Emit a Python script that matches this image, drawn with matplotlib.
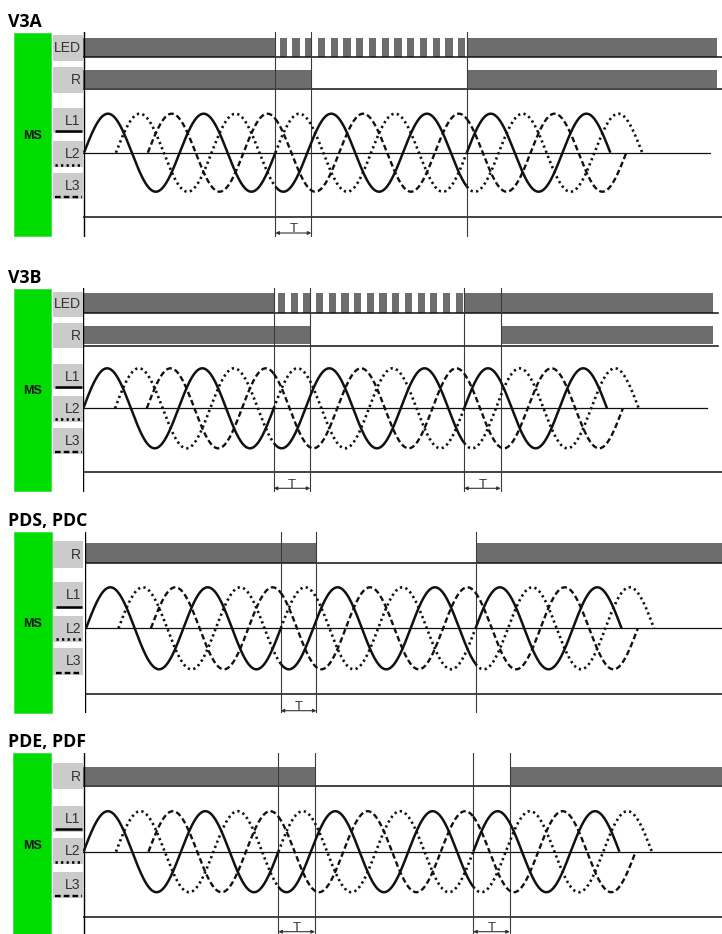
import numpy as np
import matplotlib
matplotlib.use('Agg')
import matplotlib.pyplot as plt
from matplotlib.patches import Rectangle

# ---------------- data (time in units of 1/6 of a mains period) ----------------
panel_titles = ['V3A', 'V3B', 'PDS, PDC', 'PDE, PDF']
row_labels = [['LED', 'R'], ['LED', 'R'], ['R'], ['R']]
phase_names = ['L1', 'L2', 'L3']
phase_lag = [0, 2, 4]          # L1, L2, L3 phase lag
wave_start = [0, 2, 4]
wave_end = [33, 35, 34]
fault_start = 12.0             # L1 and L2 swapped between these times
fault_end = 24.0
swap_pair = (0, 1)
relay_off_start = [14.25, 14.3, 14.2, 14.25]
relay_off_end = [24.0, 26.3, 24.0, 26.25]
led_blink = [(12.0, 24.0), (12.0, 24.0), None, None]
marker_times = [[12.0, 14.25, 24.0], [12.0, 14.3, 24.0, 26.3],
                [12.0, 14.2, 24.0], [12.0, 14.25, 24.0, 26.25]]
t_brackets = [[(12.0, 14.25)], [(12.0, 14.3), (24.0, 26.3)],
              [(12.0, 14.2)], [(12.0, 14.25), (24.0, 26.25)]]
blink_period = 0.8
blink_on = 0.45

# ---------------- layout (pixels) ----------------
W, H = 722, 934
layouts = [
    dict(x0=84.0, u=15.95, axis_x=83.3, top=31.7, bottom=237.0, title_y=27.0,
         green=(14, 33, 51, 236), box_x=(52.7, 82.7),
         rows=[(35, 61, 37.7, 56.7, 57.3), (67, 93, 70, 88.3, 89.3)],
         lboxes=[(108, 133), (141, 167), (173, 199)],
         zero=152.7, amp=39.0, bline=217.0, arrow_y=233.0,
         bar_end=717, base_end=722, zero_end=710, ms_y=136),
    dict(x0=83.3, u=15.87, axis_x=82.7, top=288.0, bottom=492.0, title_y=283.0,
         green=(14, 289.3, 51, 490.7), box_x=(52.7, 82.7),
         rows=[(291.7, 316.7, 293.3, 312.7, 313.3), (323, 348, 326, 344.3, 345.7)],
         lboxes=[(364, 389), (396, 421.7), (428, 454)],
         zero=408.3, amp=40.0, bline=472.3, arrow_y=488.3,
         bar_end=713, base_end=718, zero_end=707, ms_y=390.5),
    dict(x0=86.0, u=16.23, axis_x=85.0, top=531.7, bottom=713.0, title_y=526.0,
         green=(14, 531.7, 51.7, 713.3), box_x=(53.3, 83.3),
         rows=[(541, 567.7, 543.3, 562.7, 563.3)],
         lboxes=[(581.7, 609.3), (616, 641.7), (648.3, 675)],
         zero=628.3, amp=41.0, bline=694.3, arrow_y=710.7,
         bar_end=722, base_end=722, zero_end=722, ms_y=624),
    dict(x0=83.5, u=16.24, axis_x=83.3, top=753.0, bottom=934.0, title_y=747.3,
         green=(13.3, 753.3, 51, 934), box_x=(52.7, 82.7),
         rows=[(763.3, 789.3, 766.7, 785, 786)],
         lboxes=[(806, 831.7), (838.3, 864), (871.7, 898.3)],
         zero=851.7, amp=40.5, bline=916.7, arrow_y=931.7,
         bar_end=722, base_end=722, zero_end=722, ms_y=846),
]

BAR = '#6d6d6d'
BOX = '#cbcbcb'
GREEN = '#00dd00'
TXT = '#333333'
styles = ['-', (0, (0.85, 1.25)), (0, (2.4, 1.3))]
wave_lw = [1.8, 1.9, 1.7]

fig = plt.figure(figsize=(W / 100, H / 100), dpi=100)
bg = fig.add_axes([0, 0, 1, 1])
bg.set_xlim(0, W)
bg.set_ylim(H, 0)
bg.axis('off')


def tx(L, px):
    return (px - L['x0']) / L['u']


for i, L in enumerate(layouts):
    # ---- decorations in pixel space ----
    bg.text(8.5, L['title_y'], panel_titles[i], fontsize=12.8, fontweight='bold',
            family='Open Sans', va='baseline', ha='left', color='black')
    gx0, gy0, gx1, gy1 = L['green']
    bg.add_patch(Rectangle((gx0, gy0), gx1 - gx0, gy1 - gy0, facecolor=GREEN,
                           edgecolor='#40e040', lw=0.6))
    bg.text((gx0 + gx1) / 2, L['ms_y'], 'MS', fontsize=9, fontweight='bold',
            family='Liberation Sans', ha='center', va='center', color='#111111')
    bx0, bx1 = L['box_x']
    for lab, (r0, r1, *_rest) in zip(row_labels[i], L['rows']):
        bg.add_patch(Rectangle((bx0, r0), bx1 - bx0, r1 - r0, facecolor=BOX, lw=0))
        bg.text(bx1 - 2, (r0 + r1) / 2 + 0.3, lab, fontsize=10, family='Liberation Sans',
                ha='right', va='center', color=TXT)
    for k, (r0, r1) in enumerate(L['lboxes']):
        bg.add_patch(Rectangle((bx0, r0), bx1 - bx0, r1 - r0, facecolor=BOX, lw=0))
        bg.text(bx1 - 2, r0 + 17, phase_names[k], fontsize=10, family='Liberation Sans',
                ha='right', va='baseline', color=TXT)
        bg.plot([bx0 + 2.5, bx1 - 1], [r1 - 2.5, r1 - 2.5], color='black', lw=wave_lw[k],
                linestyle=styles[k], solid_capstyle='butt', dash_capstyle='butt')

    # ---- panel axes with time on x ----
    left = L['axis_x']
    ax = fig.add_axes([left / W, 1 - L['bottom'] / H, (W - left) / W,
                       (L['bottom'] - L['top']) / H])
    ax.set_xlim(tx(L, left), tx(L, W))
    ax.set_ylim(L['bottom'], L['top'])
    ax.axis('off')
    t_left = tx(L, left)

    # left axis line
    ax.plot([t_left + 0.02, t_left + 0.02], [L['top'], L['bottom']], color='black', lw=1.0)

    # rows (LED / R)
    for lab, (r0, r1, b0, b1, base) in zip(row_labels[i], L['rows']):
        t_end = tx(L, L['bar_end'])
        if lab == 'R':
            on = [(t_left, relay_off_start[i]), (relay_off_end[i], t_end)]
        else:
            bs, be = led_blink[i]
            on = [(t_left, bs), (be, t_end)]
            n = int(round((be - bs) / blink_period))
            for k in range(n):
                s = bs + k * blink_period + (blink_period - blink_on) * 0.75
                on.append((s, s + blink_on))
        ax.broken_barh([(a, b - a) for a, b in on], (b0, b1 - b0), facecolor=BAR, lw=0)
        ax.plot([t_left, tx(L, L['base_end'])], [base, base], color='#111111', lw=1.1)

    # zero line and bottom line
    ax.plot([t_left, tx(L, L['zero_end'])], [L['zero'], L['zero']], color='#111111', lw=0.9)
    ax.plot([t_left, tx(L, W)], [L['bline'], L['bline']], color='#111111', lw=1.1)

    # event markers
    for tm in marker_times[i]:
        ax.plot([tm, tm], [L['top'], L['bottom'] - 0.3], color='#3a3a3a', lw=0.8)

    # waves
    for k in range(3):
        pieces = [(wave_start[k], fault_start, phase_lag[k]),
                  (fault_start, fault_end,
                   phase_lag[swap_pair[1 - swap_pair.index(k)]] if k in swap_pair else phase_lag[k]),
                  (fault_end, wave_end[k], phase_lag[k])]
        for a, b, lag in pieces:
            a = max(a, wave_start[k])
            if b <= a:
                continue
            t = np.linspace(a, b, 400)
            y = L['zero'] - L['amp'] * np.sin(2 * np.pi * (t - lag) / 6.0)
            ax.plot(t, y, color='#111111', lw=wave_lw[k], linestyle=styles[k],
                    solid_capstyle='butt', dash_capstyle='butt')

    # T brackets
    for a, b in t_brackets[i]:
        ax.annotate('', xy=(b, L['arrow_y']), xytext=(a, L['arrow_y']),
                    arrowprops=dict(arrowstyle='<|-|>', color='#333333', lw=0.8,
                                    mutation_scale=5, shrinkA=0, shrinkB=0),
                    annotation_clip=False)
        ax.text((a + b) / 2, L['arrow_y'] - 0.8, 'T', fontsize=9.5, family='Liberation Sans',
                ha='center', va='baseline', color='#333333')

fig.savefig('out.png', dpi=100)
